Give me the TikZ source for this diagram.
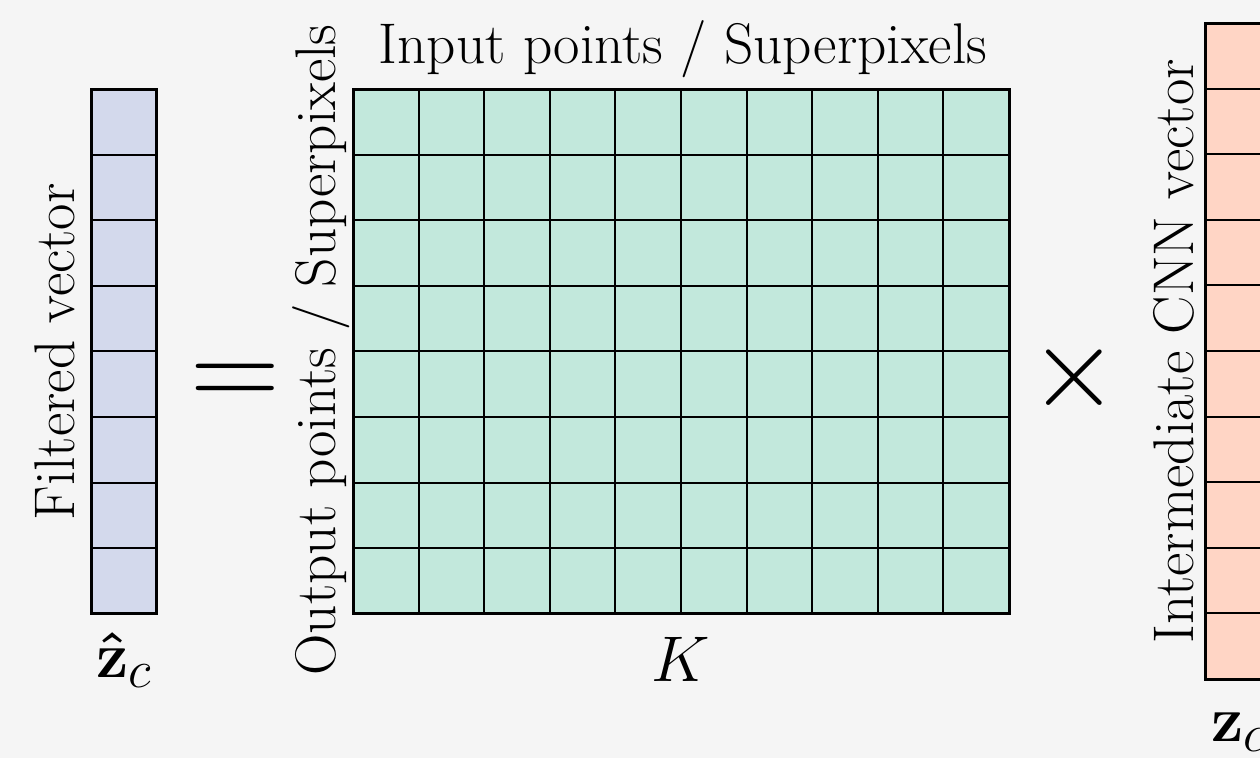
\RequirePackage{fix-cm}
\documentclass[tikz,border=0pt]{standalone}
\usepackage{amsmath}
\DeclareMathSizes{28}{28}{23}{18}
\definecolor{bgc}{HTML}{F5F5F5}
\definecolor{vecA}{HTML}{D3D9EC}
\definecolor{matB}{HTML}{C2E8DC}
\definecolor{vecC}{HTML}{FFD5C5}
\tikzset{
  box/.style={draw=black, line width=1.3pt},
  cellline/.style={draw=black, line width=0.85pt},
  lbl/.style={font=\Huge, inner sep=0pt},
  sidelbl/.style={lbl, rotate=90, anchor=base},
  mathlbl/.style={font=\fontsize{28}{34}\selectfont, inner sep=0pt},
  opsym/.style={font=\fontsize{54}{64}\selectfont, inner sep=0pt},
}
\begin{document}
\begin{tikzpicture}[x=1cm,y=1cm]
\fill[bgc] (0,0) rectangle (19.207,11.555);
\useasboundingbox (0,0) rectangle (19.207,11.555);

% left vector
\node[fill=vecA, minimum width=1cm, minimum height=8cm, inner sep=0pt, outer sep=0pt] (fv) at (1.89,6.197) {};
\foreach \i in {1,...,7}
  \draw[cellline] ([yshift=\i cm]fv.south west) -- ([yshift=\i cm]fv.south east);
\draw[box] (fv.south west) rectangle (fv.north east);

% matrix
\node[fill=matB, minimum width=10cm, minimum height=8cm, inner sep=0pt, outer sep=0pt] (M) at (10.381,6.197) {};
\foreach \i in {1,...,9}
  \draw[cellline] ([xshift=\i cm]M.south west) -- ([xshift=\i cm]M.north west);
\foreach \j in {1,...,7}
  \draw[cellline] ([yshift=\j cm]M.south west) -- ([yshift=\j cm]M.south east);
\draw[box] (M.south west) rectangle (M.north east);

% right vector
\node[fill=vecC, minimum width=1cm, minimum height=10cm, inner sep=0pt, outer sep=0pt] (iv) at (18.87,6.204) {};
\foreach \i in {1,...,9}
  \draw[cellline] ([yshift=\i cm]iv.south west) -- ([yshift=\i cm]iv.south east);
\draw[box] (iv.south west) rectangle (iv.north east);

% labels
\node[sidelbl] (lfv) at (1.143,6.19) {Filtered vector};
\node[sidelbl] (lout) at (5.107,6.22) {Output points / Superpixels};
\node[sidelbl] (liv) at (18.19,6.2) {Intermediate CNN vector};
\node[lbl, anchor=base] (lin) at (10.41,10.58) {Input points / Superpixels};
\node[mathlbl, anchor=base] (lk) at (10.38,1.16) {$K$};
\node[mathlbl, anchor=base west] (lzh) at (1.46,1.23) {$\boldsymbol{\hat{\mathbf{z}}}_c$};
\node[mathlbl, anchor=base west] (lz) at (18.46,0.245) {$\mathbf{z}_c$};

% operators
\node[opsym] (eq) at (3.58,5.66) {$=$};
\node[opsym, font=\fontsize{50}{60}\selectfont] (times) at (16.38,5.80) {$\times$};
\end{tikzpicture}
\end{document}
